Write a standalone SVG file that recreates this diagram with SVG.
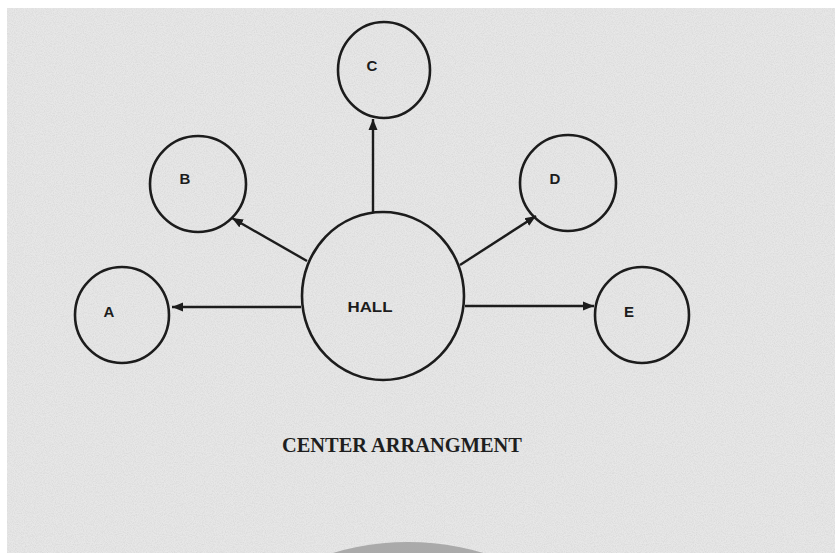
<svg xmlns="http://www.w3.org/2000/svg" width="835" height="553" viewBox="0 0 835 553">
  <defs>
    <style>
      .node { fill: none; stroke: #1c1c1c; stroke-width: 2.6; }
      .lbl { font-family: "Liberation Sans", Arial, sans-serif; font-weight: bold; font-size: 15px; fill: #1c1c1c; text-anchor: middle; }
      .edge { stroke: #1c1c1c; stroke-width: 2.4; fill: none; marker-end: url(#arrow); }
      .caption { font-family: "Liberation Serif", "Times New Roman", serif; font-weight: bold; font-size: 20px; fill: #1e1e1e; text-anchor: middle; }
    </style>
    <marker id="arrow" markerUnits="userSpaceOnUse" markerWidth="12" markerHeight="10" refX="11" refY="5" orient="auto">
      <path d="M0,0.5 L11,5 L0,9.5 z" fill="#1c1c1c"/>
    </marker>
    <filter id="grain" x="0" y="0" width="100%" height="100%">
      <feTurbulence type="fractalNoise" baseFrequency="0.9" numOctaves="2" seed="3" result="n"/>
      <feColorMatrix type="matrix" values="0 0 0 0 0.5  0 0 0 0 0.5  0 0 0 0 0.5  0 0 0 -1.6 1.05"/>
    </filter>
    <radialGradient id="dome" cx="0.5" cy="0.3" r="0.6">
      <stop offset="0" stop-color="#a0a0a0"/>
      <stop offset="1" stop-color="#b4b4b4"/>
    </radialGradient>
  </defs>

  <!-- scanned page background -->
  <rect x="0" y="0" width="835" height="553" fill="#ffffff"/>
  <rect x="7" y="8" width="828" height="545" fill="#e7e7e7"/>
  <rect x="7" y="8" width="828" height="545" filter="url(#grain)" opacity="0.35"/>
  <ellipse cx="408" cy="803" rx="262" ry="261" fill="url(#dome)"/>

  <g id="connectors">
    <line class="edge" x1="301" y1="307" x2="172" y2="307"/>
    <line class="edge" x1="307" y1="261" x2="232" y2="218"/>
    <line class="edge" x1="373" y1="213" x2="373" y2="119"/>
    <line class="edge" x1="460" y1="265" x2="536" y2="216"/>
    <line class="edge" x1="465" y1="306" x2="594" y2="306"/>
  </g>

  <g id="node-hall">
    <ellipse class="node" cx="383" cy="296" rx="81" ry="84"/>
    <text class="lbl" x="370" y="312" font-size="17" textLength="45" lengthAdjust="spacingAndGlyphs">HALL</text>
  </g>
  <g id="node-a">
    <ellipse class="node" cx="122" cy="315" rx="47" ry="48"/>
    <text class="lbl" x="109" y="317">A</text>
  </g>
  <g id="node-b">
    <ellipse class="node" cx="198" cy="184" rx="48" ry="48"/>
    <text class="lbl" x="185" y="184">B</text>
  </g>
  <g id="node-c">
    <ellipse class="node" cx="384" cy="70" rx="46" ry="48"/>
    <text class="lbl" x="372" y="71">C</text>
  </g>
  <g id="node-d">
    <ellipse class="node" cx="568" cy="183" rx="48" ry="48"/>
    <text class="lbl" x="555" y="184">D</text>
  </g>
  <g id="node-e">
    <ellipse class="node" cx="642" cy="315" rx="47" ry="48"/>
    <text class="lbl" x="629" y="317">E</text>
  </g>

  <text class="caption" x="402" y="452" textLength="240" lengthAdjust="spacingAndGlyphs">CENTER ARRANGMENT</text>
</svg>
